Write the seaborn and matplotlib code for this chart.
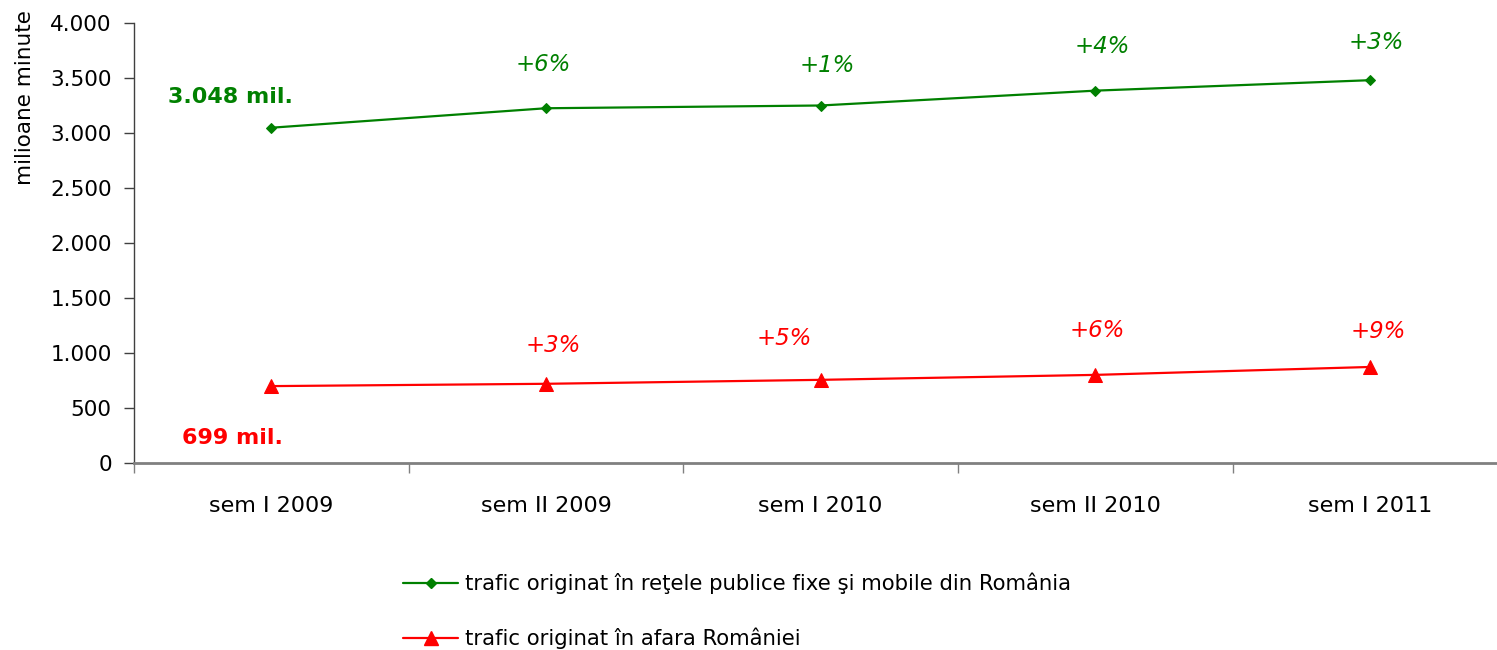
import matplotlib
matplotlib.use("Agg")
import matplotlib.pyplot as plt
import seaborn as sns
import pandas as pd
from matplotlib.lines import Line2D
from matplotlib.ticker import FuncFormatter, MultipleLocator, FixedLocator

# ---- data ----
categories = ["sem I 2009", "sem II 2009", "sem I 2010", "sem II 2010", "sem I 2011"]
domestic = [3048, 3225, 3250, 3385, 3480]
foreign = [699, 720, 756, 801, 873]
domestic_growth = ["+6%", "+1%", "+4%", "+3%"]
foreign_growth = ["+3%", "+5%", "+6%", "+9%"]
series_names = ["trafic originat în reţele publice fixe şi mobile din România",
                "trafic originat în afara României"]
start_labels = ["3.048 mil.", "699 mil."]
y_label = "milioane minute"

# ---- layout (label placement) ----
dom_growth_pos = [(0.99, 3627), (2.025, 3618), (3.027, 3782), (4.025, 3827)]
for_growth_pos = [(1.027, 1064), (1.869, 1136), (3.009, 1209), (4.03, 1200)]
start_pos = [(-0.15, 3327), (-0.14, 227)]

GREEN = "#008000"
RED = "#FF0000"

sns.set_theme(style="white")
plt.rcParams["font.family"] = ["DejaVu Sans"]
plt.rcParams["text.color"] = "black"
plt.rcParams["xtick.color"] = "black"
plt.rcParams["ytick.color"] = "black"
plt.rcParams["axes.labelcolor"] = "black"

df = pd.DataFrame({
    "cat": categories * 2,
    "val": domestic + foreign,
    "series": [series_names[0]] * len(categories) + [series_names[1]] * len(categories),
})

fig = plt.figure(figsize=(14.97, 6.5), dpi=100)
ax = fig.add_axes([134 / 1497, 1 - 463 / 650, 1 - 134 / 1497, (463 - 23) / 650])

sns.lineplot(data=df[df.series == series_names[0]], x="cat", y="val", ax=ax,
             color=GREEN, marker="D", markersize=5.5, markeredgecolor=GREEN,
             linewidth=1.6, sort=False, legend=False)
sns.lineplot(data=df[df.series == series_names[1]], x="cat", y="val", ax=ax,
             color=RED, marker="^", markersize=10, markeredgecolor=RED,
             linewidth=1.6, sort=False, legend=False)

ax.set_xlim(-0.5, 4.463)
ax.set_ylim(0, 4000)

# y axis
ax.yaxis.set_major_locator(MultipleLocator(500))
ax.yaxis.set_major_formatter(FuncFormatter(lambda v, p: f"{int(v):,}".replace(",", ".")))
ax.tick_params(axis="y", which="major", direction="out", length=7, width=1,
               color="#404040", labelsize=15.5, pad=9, left=True)

# x axis: labels at centers, tick marks at boundaries
ax.xaxis.set_major_locator(FixedLocator(range(len(categories))))
ax.set_xticklabels(categories)
ax.xaxis.set_minor_locator(FixedLocator([i - 0.5 for i in range(len(categories) + 1)]))
ax.tick_params(axis="x", which="major", length=0, labelsize=16, pad=24)
ax.tick_params(axis="x", which="minor", direction="out", length=7, width=1,
               color="#808080", bottom=True)

for s in ["top", "right"]:
    ax.spines[s].set_visible(False)
ax.spines["left"].set_color("#404040")
ax.spines["left"].set_linewidth(1)
ax.spines["bottom"].set_color("#808080")
ax.spines["bottom"].set_linewidth(2)
ax.set_xlabel("")
ax.set_ylabel(y_label, fontsize=15.5)
ax.yaxis.set_label_coords(-0.0726, 0.83)
ax.grid(False)

# annotations
for (x, y), t in zip(dom_growth_pos, domestic_growth):
    ax.text(x, y, t, color=GREEN, fontsize=16.5, style="italic", ha="center", va="center")
for (x, y), t in zip(for_growth_pos, foreign_growth):
    ax.text(x, y, t, color=RED, fontsize=16.5, style="italic", ha="center", va="center")
ax.text(*start_pos[0], start_labels[0], color=GREEN, fontsize=16, fontweight="bold",
        ha="center", va="center")
ax.text(*start_pos[1], start_labels[1], color=RED, fontsize=16, fontweight="bold",
        ha="center", va="center")

# legend
handles = [
    Line2D([], [], color=GREEN, marker="D", markersize=5.5, linewidth=1.6),
    Line2D([], [], color=RED, marker="^", markersize=10, linewidth=1.6),
]
fig.legend(handles, series_names, loc="upper left",
           bbox_to_anchor=(403 / 1497, 1 - 573 / 650), frameon=False,
           fontsize=15.3, handlelength=2.6, handletextpad=0.3, labelspacing=1.55,
           borderpad=0, borderaxespad=0)

fig.savefig("out.png", dpi=100)
